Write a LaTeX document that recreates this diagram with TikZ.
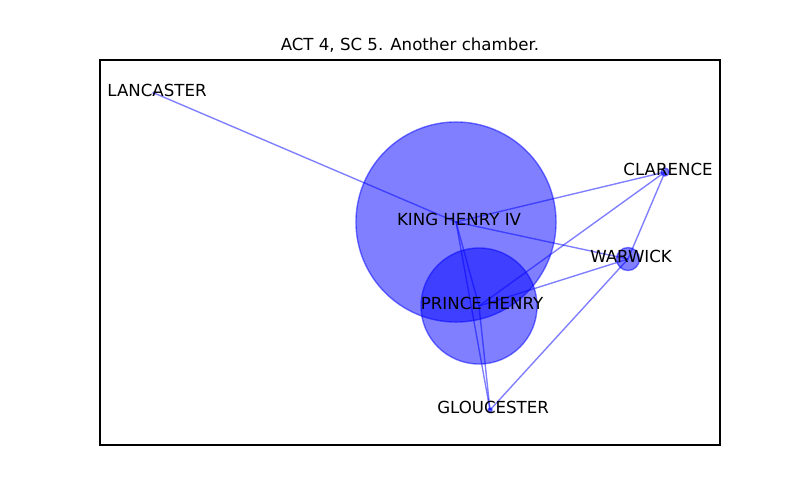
\documentclass[tikz,border=0pt]{standalone}
\usepackage{fontspec}
\setmainfont{DejaVu Sans}
\usetikzlibrary{positioning}

\begin{document}
\begin{tikzpicture}[
    x=0.01in, y=-0.01in,
    actor/.style={
        circle, draw=blue, fill=blue,
        draw opacity=0.5, fill opacity=0.5,
        inner sep=0pt, line width=1pt
    },
    tie/.style={draw=blue, draw opacity=0.5, line width=1pt},
    lbl/.style={font=\fontsize{12}{14}\selectfont, inner sep=0pt, xshift=2.2pt, yshift=2.2pt}
]
\useasboundingbox (0,0) rectangle (800,500);
\draw[line width=0.8pt] (100,60) rectangle (720,445);
\node[font=\fontsize{12}{14}\selectfont, inner sep=0pt] (title) at (410,45) {ACT 4, SC 5. Another chamber.};

% characters, sized by lines spoken
\node[actor, minimum size=2in]    (king)  at (456,222) {};
\node[actor, minimum size=1.16in] (hal)   at (479,306) {};
\node[actor, minimum size=0.23in] (war)   at (628,259) {};
\node[actor, minimum size=0.08in] (clar)  at (665,172) {};
\node[actor, minimum size=0.04in] (glou)  at (490,410) {};
\node[actor, minimum size=0.02in] (lanc)  at (154,93)  {};

% who shares the scene with whom
\draw[tie] (lanc.center) -- (king.center);
\draw[tie] (king.center) -- (clar.center);
\draw[tie] (king.center) -- (war.center);
\draw[tie] (king.center) -- (hal.center);
\draw[tie] (king.center) -- (glou.center);
\draw[tie] (hal.center) -- (clar.center);
\draw[tie] (hal.center) -- (war.center);
\draw[tie] (hal.center) -- (glou.center);
\draw[tie] (clar.center) -- (war.center);
\draw[tie] (war.center) -- (glou.center);

\node[lbl] (kingname) at (king) {KING HENRY IV};
\node[lbl] (halname)  at (hal)  {PRINCE HENRY};
\node[lbl] (warname)  at (war)  {WARWICK};
\node[lbl] (clarname) at (clar) {CLARENCE};
\node[lbl] (glouname) at (glou) {GLOUCESTER};
\node[lbl] (lancname) at (lanc) {LANCASTER};

\end{tikzpicture}
\end{document}
